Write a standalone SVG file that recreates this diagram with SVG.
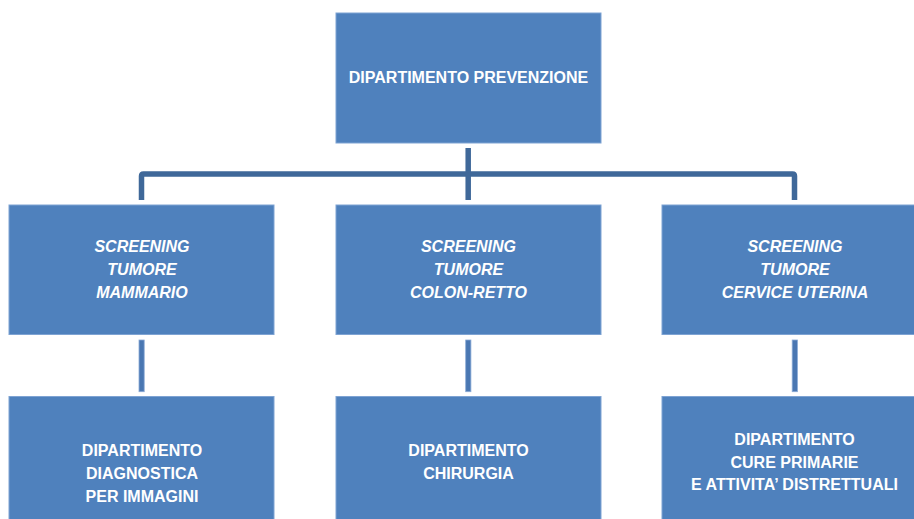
<svg xmlns="http://www.w3.org/2000/svg" width="914" height="519" viewBox="0 0 914 519">
  <style>
    .box { fill: #4f81bd; stroke: #7ea3d3; stroke-width: 1; }
    .lbl { fill: #ffffff; font-family: "Liberation Sans", Arial, sans-serif; font-size: 16px; font-weight: bold; text-anchor: middle; }
    .it { font-style: italic; }
    .bus { fill: none; stroke: #3f6899; stroke-width: 5.5; stroke-linejoin: round; }
    .link { fill: #4a77b2; stroke: #8aaad6; stroke-width: 0.8; }
  </style>

  <!-- connectors -->
  <g id="connectors">
    <path class="bus" d="M141.5,200 V176 Q141.5,174 143.5,174 H792.5 Q794.5,174 794.5,176 V200"/>
    <line class="bus" x1="468.2" y1="148" x2="468.2" y2="200"/>
    <rect class="link" x="139" y="340" width="5.2" height="51.7"/>
    <rect class="link" x="465.7" y="340" width="5.2" height="51.7"/>
    <rect class="link" x="792.2" y="340" width="5.2" height="51.7"/>
  </g>

  <!-- top level -->
  <g id="prevenzione">
    <rect class="box" x="336" y="13" width="265" height="130"/>
    <text class="lbl" x="468.5" y="83">DIPARTIMENTO PREVENZIONE</text>
  </g>

  <!-- screening programmes -->
  <g id="screening-mammario">
    <rect class="box" x="9" y="205" width="265" height="129.5"/>
    <text class="lbl it" x="142" y="252">SCREENING</text>
    <text class="lbl it" x="142" y="275">TUMORE</text>
    <text class="lbl it" x="142" y="298">MAMMARIO</text>
  </g>
  <g id="screening-colon-retto">
    <rect class="box" x="336" y="205" width="265" height="129.5"/>
    <text class="lbl it" x="468.5" y="252">SCREENING</text>
    <text class="lbl it" x="468.5" y="275">TUMORE</text>
    <text class="lbl it" x="468.5" y="298">COLON-RETTO</text>
  </g>
  <g id="screening-cervice">
    <rect class="box" x="662" y="205" width="265" height="129.5"/>
    <text class="lbl it" x="795" y="252">SCREENING</text>
    <text class="lbl it" x="795" y="275">TUMORE</text>
    <text class="lbl it" x="795" y="298">CERVICE UTERINA</text>
  </g>

  <!-- departments -->
  <g id="diagnostica">
    <rect class="box" x="9" y="396.5" width="265" height="130"/>
    <text class="lbl" x="142" y="456">DIPARTIMENTO</text>
    <text class="lbl" x="142" y="478.5">DIAGNOSTICA</text>
    <text class="lbl" x="142" y="501.5">PER IMMAGINI</text>
  </g>
  <g id="chirurgia">
    <rect class="box" x="336" y="396.5" width="265" height="130"/>
    <text class="lbl" x="468.5" y="456">DIPARTIMENTO</text>
    <text class="lbl" x="468.5" y="478.5">CHIRURGIA</text>
  </g>
  <g id="cure-primarie">
    <rect class="box" x="662" y="396.5" width="265" height="130"/>
    <text class="lbl" x="794.5" y="444.5">DIPARTIMENTO</text>
    <text class="lbl" x="794.5" y="467.5">CURE PRIMARIE</text>
    <text class="lbl" x="794.5" y="490">E ATTIVITA’ DISTRETTUALI</text>
  </g>
</svg>
